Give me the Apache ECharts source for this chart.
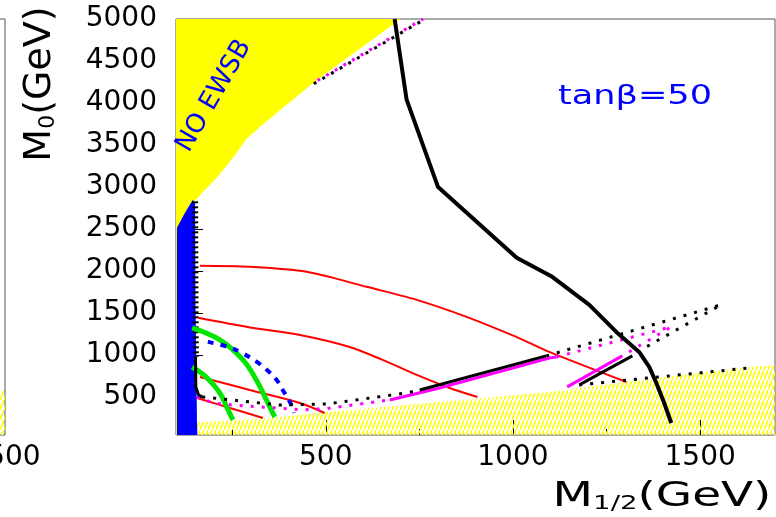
<!DOCTYPE html>
<html>
<head>
<meta charset="utf-8">
<script src="https://cdn.jsdelivr.net/npm/echarts@6/dist/echarts.min.js"></script>
<style>
  html, body { margin: 0; padding: 0; background: #fff; }
  #chart { width: 776px; height: 517px; }
</style>
</head>
<body>
<div id="chart"></div>
<script>
// axis ranges and ticks (GeV)
const xRange = [100, 1700];
const yRange = [50, 5000];
const xTicks = [500, 1000, 1500];
const xMinorTicks = [250, 750, 1250];
const yTicks = [500, 1000, 1500, 2000, 2500, 3000, 3500, 4000, 4500, 5000];
const leftPanelTicks = [1500];

// regions [M1/2, M0]
const noEwsbRegion = [[100, 5000], [700, 5000], [471, 4255], [330, 3740], [290, 3580], [252, 3350],
  [209, 3112], [172, 2945], [149, 2826], [153, 50], [100, 50]];
const blueRegion = [[102.5, 50], [102.5, 2516], [124, 2695], [145, 2850], [151, 2800], [152, 1658],
  [156, 229], [157, 50]];
const staulspRegion = [[100, 50], [100, 193], [137, 193], [377, 264], [503, 324], [804, 443],
  [1097, 562], [1303, 681], [1604, 848], [1700, 884], [1700, 50]];
const leftPanelHatch = [[1470, 50], [1470, 560], [1500, 585], [1500, 50]];

// black boundary ticks on the blue region
const blueEdge = [[151, 2830], [152, 1658], [153, 979]];

// contours
const mainBlack = [[684, 5000], [716, 4040], [800, 3000], [1010, 2160], [1105, 1932], [1204, 1599],
  [1276, 1277], [1337, 1039], [1364, 860], [1383, 669], [1404, 431], [1423, 193]];
const red1 = [[164, 2063], [297, 2051], [449, 1992], [609, 1813], [743, 1658], [876, 1456],
  [1009, 1217], [1097, 1039], [1303, 681]];
const red2 = [[159, 1444], [297, 1330], [431, 1241], [564, 1098], [652, 943], [743, 765],
  [831, 610], [905, 503]];
const red3 = [[164, 741], [297, 586], [431, 431], [497, 312]];
const red4 = [[156, 491], [244, 372], [332, 253]];
const greenOuter = [[143, 1325], [217, 1182], [279, 943], [319, 669], [345, 431], [364, 264]];
const greenInner = [[143, 860], [183, 729], [217, 550], [239, 348], [252, 229]];
const blueDashed = [[185, 1158], [239, 1098], [276, 1027], [316, 920], [343, 824], [369, 705],
  [385, 586], [404, 443], [415, 312]];

const blackWall = [[152, 979], [153, 620], [160, 530], [170, 503]];
const blackDotLow = [[170, 503], [377, 407], [503, 419], [716, 550], [751, 586]];
const blackSolid = [[751, 586], [1089, 991]];
const blackDotWedge = [[1089, 991], [1556, 1599], [1356, 1098]];
const blackV = [[1319, 991], [1177, 646]];
const blackDotEdge = [[1177, 646], [1631, 848]];
const blackDotTop = [[468, 4230], [765, 5000]];

const magDotLow = [[156, 503], [200, 430], [252, 407], [369, 372], [439, 350], [503, 365], [671, 467]];
const magSolid = [[671, 467], [804, 610], [1097, 967], [1116, 979]];
const magDotWedge = [[1116, 979], [1423, 1337], [1292, 991]];
const magV = [[1292, 991], [1145, 622]];
const magDotTop = [[478, 4268], [760, 5000]];

// hatch pattern for the stau region
const hatch = document.createElement('canvas');
hatch.width = 4;
hatch.height = 10;
const hctx = hatch.getContext('2d');
hctx.strokeStyle = '#ffff00';
hctx.lineWidth = 1.6;
hctx.beginPath();
hctx.moveTo(-1, 12.5);
hctx.lineTo(5, -2.5);
hctx.stroke();

function area(points, fill, z, xi, yi) {
  return {
    type: 'custom', xAxisIndex: xi || 0, yAxisIndex: yi || 0, clip: true, silent: true, z: z,
    data: points,
    renderItem: function (params, api) {
      if (params.dataIndex !== 0) return null;
      return {
        type: 'polygon',
        shape: { points: points.map(function (p) { return api.coord(p); }) },
        style: { fill: fill, stroke: null }
      };
    }
  };
}

function curve(points, color, width, dash, smooth, z) {
  return {
    type: 'line', data: points, symbol: 'none', silent: true, z: z || 5,
    smooth: smooth || false, clip: true,
    lineStyle: { color: color, width: width, type: dash || 'solid', cap: 'butt' }
  };
}

const dots = [3, 8];
const plain = function (v) { return String(v); };
const tickFont = { fontFamily: 'DejaVu Sans', fontSize: 28, color: '#000', formatter: plain };

const chart = echarts.init(document.getElementById('chart'));
chart.setOption({
  animation: false,
  backgroundColor: '#fff',
  grid: [
    { left: 176, right: 1, top: 19, bottom: 82, show: true, borderColor: '#555', borderWidth: 1,
      backgroundColor: 'transparent', containLabel: false, outerBoundsMode: 'none' },
    { left: -295, width: 300, top: 19, bottom: 82, show: true, borderColor: '#555', borderWidth: 1,
      backgroundColor: 'transparent', containLabel: false, outerBoundsMode: 'none' }
  ],
  xAxis: [
    {
      type: 'value', gridIndex: 0, min: xRange[0], max: xRange[1],
      axisLine: { show: false }, splitLine: { show: false },
      axisTick: { customValues: xTicks, inside: true, length: 15, lineStyle: { color: '#000', width: 1 } },
      axisLabel: Object.assign({ customValues: xTicks, margin: 9 }, tickFont)
    },
    {
      type: 'value', gridIndex: 0, min: xRange[0], max: xRange[1], position: 'bottom',
      axisLine: { show: false }, splitLine: { show: false },
      axisTick: { customValues: xMinorTicks, inside: true, length: 6, lineStyle: { color: '#000', width: 1 } },
      axisLabel: { show: false }
    },
    {
      type: 'value', gridIndex: 1, min: 100, max: 1500,
      axisLine: { show: false }, splitLine: { show: false }, axisTick: { show: false },
      axisLabel: Object.assign({ customValues: leftPanelTicks, margin: 9 }, tickFont)
    }
  ],
  yAxis: [
    {
      type: 'value', gridIndex: 0, min: yRange[0], max: yRange[1],
      axisLine: { show: false }, splitLine: { show: false },
      axisTick: { customValues: yTicks, inside: true, length: 27, lineStyle: { color: '#000', width: 1 } },
      axisLabel: Object.assign({ customValues: yTicks, margin: 19 }, tickFont)
    },
    {
      type: 'value', gridIndex: 1, min: yRange[0], max: yRange[1],
      axisLine: { show: false }, splitLine: { show: false }, axisTick: { show: false }, axisLabel: { show: false }
    }
  ],
  series: [
    area(staulspRegion, { image: hatch, repeat: 'repeat' }, 1),
    area(noEwsbRegion, '#ffff00', 2),
    area(blueRegion, '#0000ff', 3),
    area(leftPanelHatch, { image: hatch, repeat: 'repeat' }, 1, 2, 1),
    curve(blueEdge, '#000', 6, [2, 3], false, 4),
    curve(red1, '#ff0000', 2, 'solid', 0.3),
    curve(red2, '#ff0000', 2, 'solid', 0.3),
    curve(red3, '#ff0000', 2, 'solid', 0.3),
    curve(red4, '#ff0000', 2, 'solid', 0.3),
    curve(greenOuter, '#00e600', 5, 'solid', 0.4),
    curve(greenInner, '#00e600', 5, 'solid', 0.4),
    curve(blueDashed, '#0000ff', 4, [6, 7], 0.4),
    curve(magDotLow, '#ff00ff', 3, dots),
    curve(magSolid, '#ff00ff', 3),
    curve(magDotWedge, '#ff00ff', 3, dots),
    curve(magV, '#ff00ff', 3),
    curve(magDotTop, '#ff00ff', 3, [3, 7]),
    curve(blackWall, '#000', 3),
    curve(blackDotLow, '#000', 3, dots),
    curve(blackSolid, '#000', 3),
    curve(blackDotWedge, '#000', 3, dots),
    curve(blackV, '#000', 3),
    curve(blackDotEdge, '#000', 3, dots),
    curve(blackDotTop, '#000', 3, [3, 7]),
    curve(mainBlack, '#000', 4, 'solid', false, 6)
  ],
  graphic: [
    {
      type: 'text', x: 40, y: 84, rotation: Math.PI / 2, silent: true,
      style: {
        text: 'M{s|0}(GeV)', fontFamily: 'DejaVu Sans', fontSize: 38, fill: '#000',
        align: 'center', verticalAlign: 'middle',
        rich: { s: { fontFamily: 'DejaVu Sans', fontSize: 22, verticalAlign: 'bottom' } }
      }
    },
    {
      type: 'text', x: 662, y: 497, scaleX: 1.38, silent: true,
      style: {
        text: 'M{s|1/2}(GeV)', fontFamily: 'DejaVu Sans', fontSize: 34, fill: '#000',
        align: 'center', verticalAlign: 'middle',
        rich: { s: { fontFamily: 'DejaVu Sans', fontSize: 20, verticalAlign: 'bottom' } }
      }
    },
    {
      type: 'text', x: 635, y: 97, scaleX: 1.3, silent: true,
      style: { text: 'tanβ=50', fontFamily: 'DejaVu Sans', fontSize: 27, fill: '#0000ff', align: 'center', verticalAlign: 'middle' }
    },
    {
      type: 'text', x: 214, y: 96, rotation: Math.PI / 3, silent: true, z: 10,
      style: { text: 'NO EWSB', fontFamily: 'DejaVu Sans', fontSize: 26, fill: '#0000ff', align: 'center', verticalAlign: 'middle' }
    }
  ]
});
</script>
</body>
</html>
